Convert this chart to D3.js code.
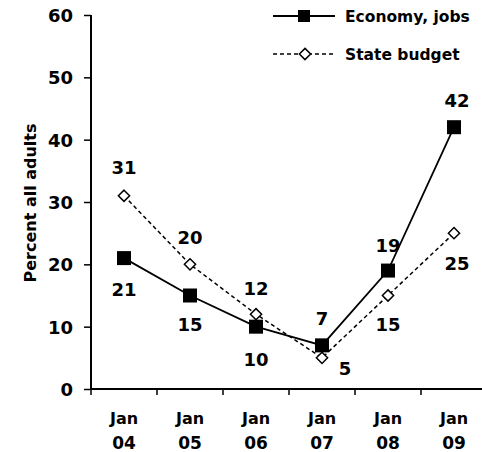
<!DOCTYPE html>
<meta charset="utf-8">
<style>
body { margin: 0; background: #fff; }
text {
  font-family: "DejaVu Sans", Verdana, sans-serif;
  font-weight: bold;
  fill: #000;
}
</style>
<svg width="482" height="452"></svg>
<script src="https://cdn.jsdelivr.net/npm/d3@7"></script>
<script>

var months = ["Jan 04", "Jan 05", "Jan 06", "Jan 07", "Jan 08", "Jan 09"];
var economy = [21, 15, 10, 7, 19, 42];
var budget = [31, 20, 12, 5, 15, 25];
var yTicks = [0, 10, 20, 30, 40, 50, 60];

// label placement per point: dx, dy from the marker
var econLabelPos = [[0, 31], [0, 29], [0, 33], [0, -27], [0, -25], [3, -27]];
var budgetLabelPos = [[0, -28], [0, -27], [0, -26], [23, 11], [0, 29], [3, 30]];

var svg = d3.select("svg");

var x = d3.scaleBand().domain(months).range([91, 487]);
var y = d3.scaleLinear().domain([0, 60]).range([389, 15]);

// y axis
var yAxis = svg.append("g")
    .attr("transform", "translate(91,0)")
    .call(d3.axisLeft(y).tickValues(yTicks).tickSize(7).tickPadding(11));
yAxis.select(".domain").attr("stroke-width", 2).attr("d", "M0,15V389");
yAxis.selectAll(".tick line").attr("stroke-width", 1.5);
yAxis.selectAll(".tick text").style("font-size", "18px").attr("dy", "0.36em").attr("font-family", null);

// x axis
var xAxis = svg.append("g")
    .attr("transform", "translate(0,389)");
xAxis.append("line").attr("x1", 91).attr("x2", 482).attr("stroke", "#000").attr("stroke-width", 2);
xAxis.selectAll(".tk")
  .data(months)
  .enter().append("line")
    .attr("x1", function(d) { return x(d); })
    .attr("x2", function(d) { return x(d); })
    .attr("y1", 0).attr("y2", 6)
    .attr("stroke", "#000").attr("stroke-width", 1.5);
var lab = xAxis.selectAll(".lab")
  .data(months)
  .enter().append("text")
    .attr("text-anchor", "middle");
lab.append("tspan").attr("y", 35).style("font-size", "16px")
    .attr("x", function(d) { return x(d) + x.bandwidth() / 2; })
    .text(function(d) { return d.split(" ")[0]; });
lab.append("tspan").attr("y", 60).style("font-size", "17px")
    .attr("x", function(d) { return x(d) + x.bandwidth() / 2; })
    .text(function(d) { return d.split(" ")[1]; });

// y title
svg.append("text")
    .attr("transform", "translate(30,203) rotate(-90)")
    .attr("text-anchor", "middle")
    .attr("dy", "0.36em")
    .style("font-size", "16px")
    .text("Percent all adults");

var cx = function(i) { return x(months[i]) + x.bandwidth() / 2; };

var line = d3.line()
    .x(function(d, i) { return cx(i); })
    .y(function(d) { return y(d); });

svg.append("path")
    .datum(budget)
    .attr("d", line)
    .attr("fill", "none")
    .attr("stroke", "#000")
    .attr("stroke-width", 1.5)
    .attr("stroke-dasharray", "4,3");

svg.append("path")
    .datum(economy)
    .attr("d", line)
    .attr("fill", "none")
    .attr("stroke", "#000")
    .attr("stroke-width", 1.8);

var diamond = d3.symbol().type(d3.symbolDiamond2).size(80);
svg.selectAll(".bm")
  .data(budget)
  .enter().append("path")
    .attr("d", diamond)
    .attr("transform", function(d, i) { return "translate(" + cx(i) + "," + y(d) + ")"; })
    .attr("fill", "#fff").attr("stroke", "#000").attr("stroke-width", 1.5);

svg.selectAll(".em")
  .data(economy)
  .enter().append("rect")
    .attr("x", function(d, i) { return cx(i) - 7; })
    .attr("y", function(d) { return y(d) - 7; })
    .attr("width", 14).attr("height", 14)
    .attr("fill", "#000");

svg.selectAll(".el")
  .data(economy)
  .enter().append("text")
    .attr("text-anchor", "middle")
    .attr("dy", "0.36em")
    .style("font-size", "18px")
    .attr("x", function(d, i) { return cx(i) + econLabelPos[i][0]; })
    .attr("y", function(d, i) { return y(d) + econLabelPos[i][1]; })
    .text(function(d) { return d; });

svg.selectAll(".bl")
  .data(budget)
  .enter().append("text")
    .attr("text-anchor", "middle")
    .attr("dy", "0.36em")
    .style("font-size", "18px")
    .attr("x", function(d, i) { return cx(i) + budgetLabelPos[i][0]; })
    .attr("y", function(d, i) { return y(d) + budgetLabelPos[i][1]; })
    .text(function(d) { return d; });

// legend
var legend = svg.append("g");
legend.append("line").attr("x1", 273).attr("x2", 335).attr("y1", 16).attr("y2", 16)
    .attr("stroke", "#000").attr("stroke-width", 1.8);
legend.append("rect").attr("x", 298).attr("y", 10).attr("width", 12).attr("height", 12).attr("fill", "#000");
legend.append("text").attr("x", 345).attr("y", 16).attr("dy", "0.36em").style("font-size", "15.5px").text("Economy, jobs");
legend.append("line").attr("x1", 273).attr("x2", 335).attr("y1", 54).attr("y2", 54)
    .attr("stroke", "#000").attr("stroke-width", 1.5).attr("stroke-dasharray", "4,3");
legend.append("path").attr("d", diamond).attr("transform", "translate(305,54)")
    .attr("fill", "#fff").attr("stroke", "#000").attr("stroke-width", 1.5);
legend.append("text").attr("x", 345).attr("y", 54).attr("dy", "0.36em").style("font-size", "15.5px").text("State budget");

</script>
